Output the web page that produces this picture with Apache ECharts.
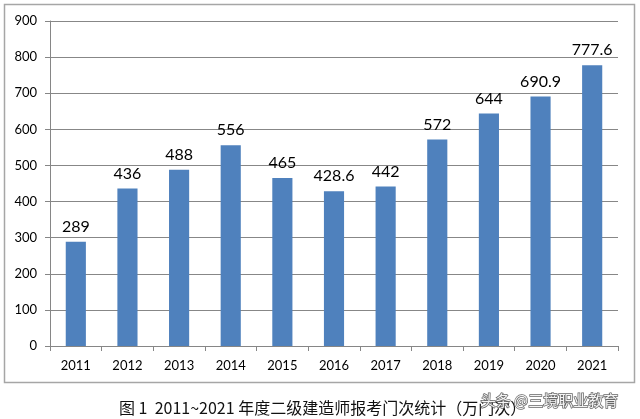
<!DOCTYPE html>
<html>
<head>
<meta charset="utf-8">
<script src="https://cdn.jsdelivr.net/npm/echarts@6/dist/echarts.min.js"></script>
<style>
html,body{margin:0;padding:0;background:#fff;}
#main{width:640px;height:419px;}
</style>
</head>
<body>
<div id="main"></div>
<script>
var years = ['2011','2012','2013','2014','2015','2016','2017','2018','2019','2020','2021'];
var counts = [289, 436, 488, 556, 465, 428.6, 442, 572, 644, 690.9, 777.6];
var caption = '图 1  2011~2021 年度二级建造师报考门次统计（万门次）';
var watermark = '头条 @三境职业教育';

var myChar = echarts.init(document.getElementById('main'));
var myOption = {
	animation: false,
	grid: {
		left: 50,
		right: 22,
		top: 21,
		bottom: 73
	},
	xAxis: {
		type: 'category',
		data: years,
		axisLine: {lineStyle: {color: '#868686'}},
		axisTick: {show: true, length: 5, lineStyle: {color: '#868686'}},
		axisLabel: {color: '#000', fontSize: 13, fontFamily: 'Lato', margin: 13}
	},
	yAxis: {
		type: 'value',
		min: 0,
		max: 900,
		interval: 100,
		axisLine: {show: true, lineStyle: {color: '#868686'}},
		axisTick: {show: true, length: 5, lineStyle: {color: '#868686'}},
		splitLine: {lineStyle: {color: '#878787', width: 1}},
		axisLabel: {color: '#000', fontSize: 13, fontFamily: 'Lato', margin: 13}
	},
	series: [{
		type: 'bar',
		data: counts,
		barWidth: '39%',
		itemStyle: {color: '#4F81BD'},
		label: {
			show: true,
			position: 'top',
			distance: 7,
			color: '#000',
			fontSize: 16,
			fontFamily: 'Lato'
		}
	}],
	graphic: [
		{
			type: 'rect',
			shape: {x: 4.5, y: 4.5, width: 630, height: 378},
			style: {fill: 'none', stroke: '#a6a6a6', lineWidth: 1.5},
			silent: true
		},
		{
			type: 'text',
			left: 119,
			top: 400,
			style: {text: caption, fill: '#111', font: '16px "Noto Sans CJK SC"'}
		},
		{
			type: 'text',
			left: 480,
			top: 392,
			style: {text: watermark, fill: '#f4f4f4', stroke: '#666', lineWidth: 1.5, font: '15px "Noto Sans CJK SC"'}
		}
	]
};
myChar.setOption(myOption);
</script>
</body>
</html>
